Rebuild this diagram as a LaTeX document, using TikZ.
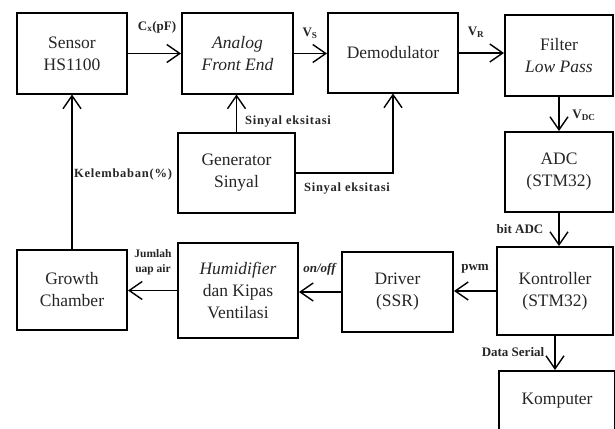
\documentclass[tikz,border=0pt]{standalone}
\usepackage{fontspec}
\setmainfont{Liberation Serif}
\usetikzlibrary{arrows.meta}
\tikzset{
  blk/.style={draw=black, line width=2pt, fill=white, align=center, inner sep=0pt,
    font=\fontsize{17.5}{22}\selectfont, text=black!85},
  conn/.style={line width=1.4pt, -{Straight Barb[length=13pt,width=18pt]}},
  lab/.style={font=\bfseries\fontsize{13}{14}\selectfont, text=black!85, inner sep=0pt, align=center},
  slab/.style={lab, font=\bfseries\fontsize{11.5}{14.5}\selectfont},
  wlab/.style={lab, font=\bfseries\fontsize{12.5}{14}\selectfont\addfontfeatures{LetterSpace=6}}
}
\begin{document}
\begin{tikzpicture}[x=1pt,y=-1pt]
\useasboundingbox (0,0) rectangle (615,428);
\clip (0,0) rectangle (615,428);
\fill[white] (0,0) rectangle (615,428);
% boxes
\node[blk, minimum width=110pt, minimum height=80pt] (sensor) at (72,53.5) {Sensor\\HS1100};
\node[blk, minimum width=111pt, minimum height=80pt] (afe) at (237.5,53.5) {\textit{Analog}\\\textit{Front End}};
\node[blk, minimum width=130pt, minimum height=79pt] (demod) at (393,53) {Demodulator};
\node[blk, minimum width=108pt, minimum height=81pt] (filter) at (559,55.5) {Filter\\\textit{Low Pass}};
\node[blk, minimum width=108pt, minimum height=80pt] (adc) at (559,172) {ADC\\(STM32)};
\node[blk, minimum width=117pt, minimum height=80pt] (gen) at (236.5,173) {Generator\\Sinyal};
\node[blk, minimum width=110pt, minimum height=80pt] (growth) at (72,290) {Growth\\Chamber};
\node[blk, minimum width=120pt, minimum height=95pt] (humid) at (238,290.5) {\textit{Humidifier}\\dan Kipas\\Ventilasi};
\node[blk, minimum width=111pt, minimum height=80pt] (driver) at (397.5,292) {Driver\\(SSR)};
\node[blk, minimum width=116pt, minimum height=88pt] (kontrol) at (555,291) {Kontroller\\(STM32)};
\node[blk, minimum width=116pt, minimum height=60pt] (komp) at (557,401) {Komputer};
% connectors
\draw[conn] (sensor.east) -- (sensor.east -| afe.west);
\draw[conn] (afe.east) -- (afe.east -| demod.west);
\draw[conn] (demod.east) -- (demod.east -| filter.west);
\draw[conn] (filter.south) -- (filter.south |- adc.north);
\draw[conn] (adc.south) -- (adc.south |- kontrol.north);
\draw[conn] (kontrol.south) -- (kontrol.south |- komp.north);
\draw[conn] (kontrol.west) -- (kontrol.west -| driver.east);
\draw[conn] (driver.west) -- (driver.west -| humid.east);
\draw[conn] (humid.west) -- (humid.west -| growth.east);
\draw[conn] (growth.north) -- (sensor.south);
\draw[conn] (gen.north) -- (gen.north |- afe.south);
\draw[conn] (gen.east) -| (demod.south);
% labels
\node[lab] (lcx) at (157,27) {C\textsubscript{x}(pF)};
\node[lab] (lvs) at (310,33) {V\textsubscript{S}};
\node[lab] (lvr) at (476,32) {V\textsubscript{R}};
\node[lab] (lvdc) at (584,115) {V\textsubscript{DC}};
\node[wlab] (lse1) at (288,122) {Sinyal eksitasi};
\node[wlab] (lse2) at (347,189) {Sinyal eksitasi};
\node[wlab] (lkel) at (123,174) {Kelembaban(\%)};
\node[lab] (lbit) at (520,229) {bit ADC};
\node[lab] (lpwm) at (475,269) {pwm};
\node[lab] (lonoff) at (320,269) {\textit{on/off}};
\node[slab] (ljml) at (153,262) {Jumlah\\uap air};
\node[lab] (lds) at (513,352) {Data Serial};
\end{tikzpicture}
\end{document}
